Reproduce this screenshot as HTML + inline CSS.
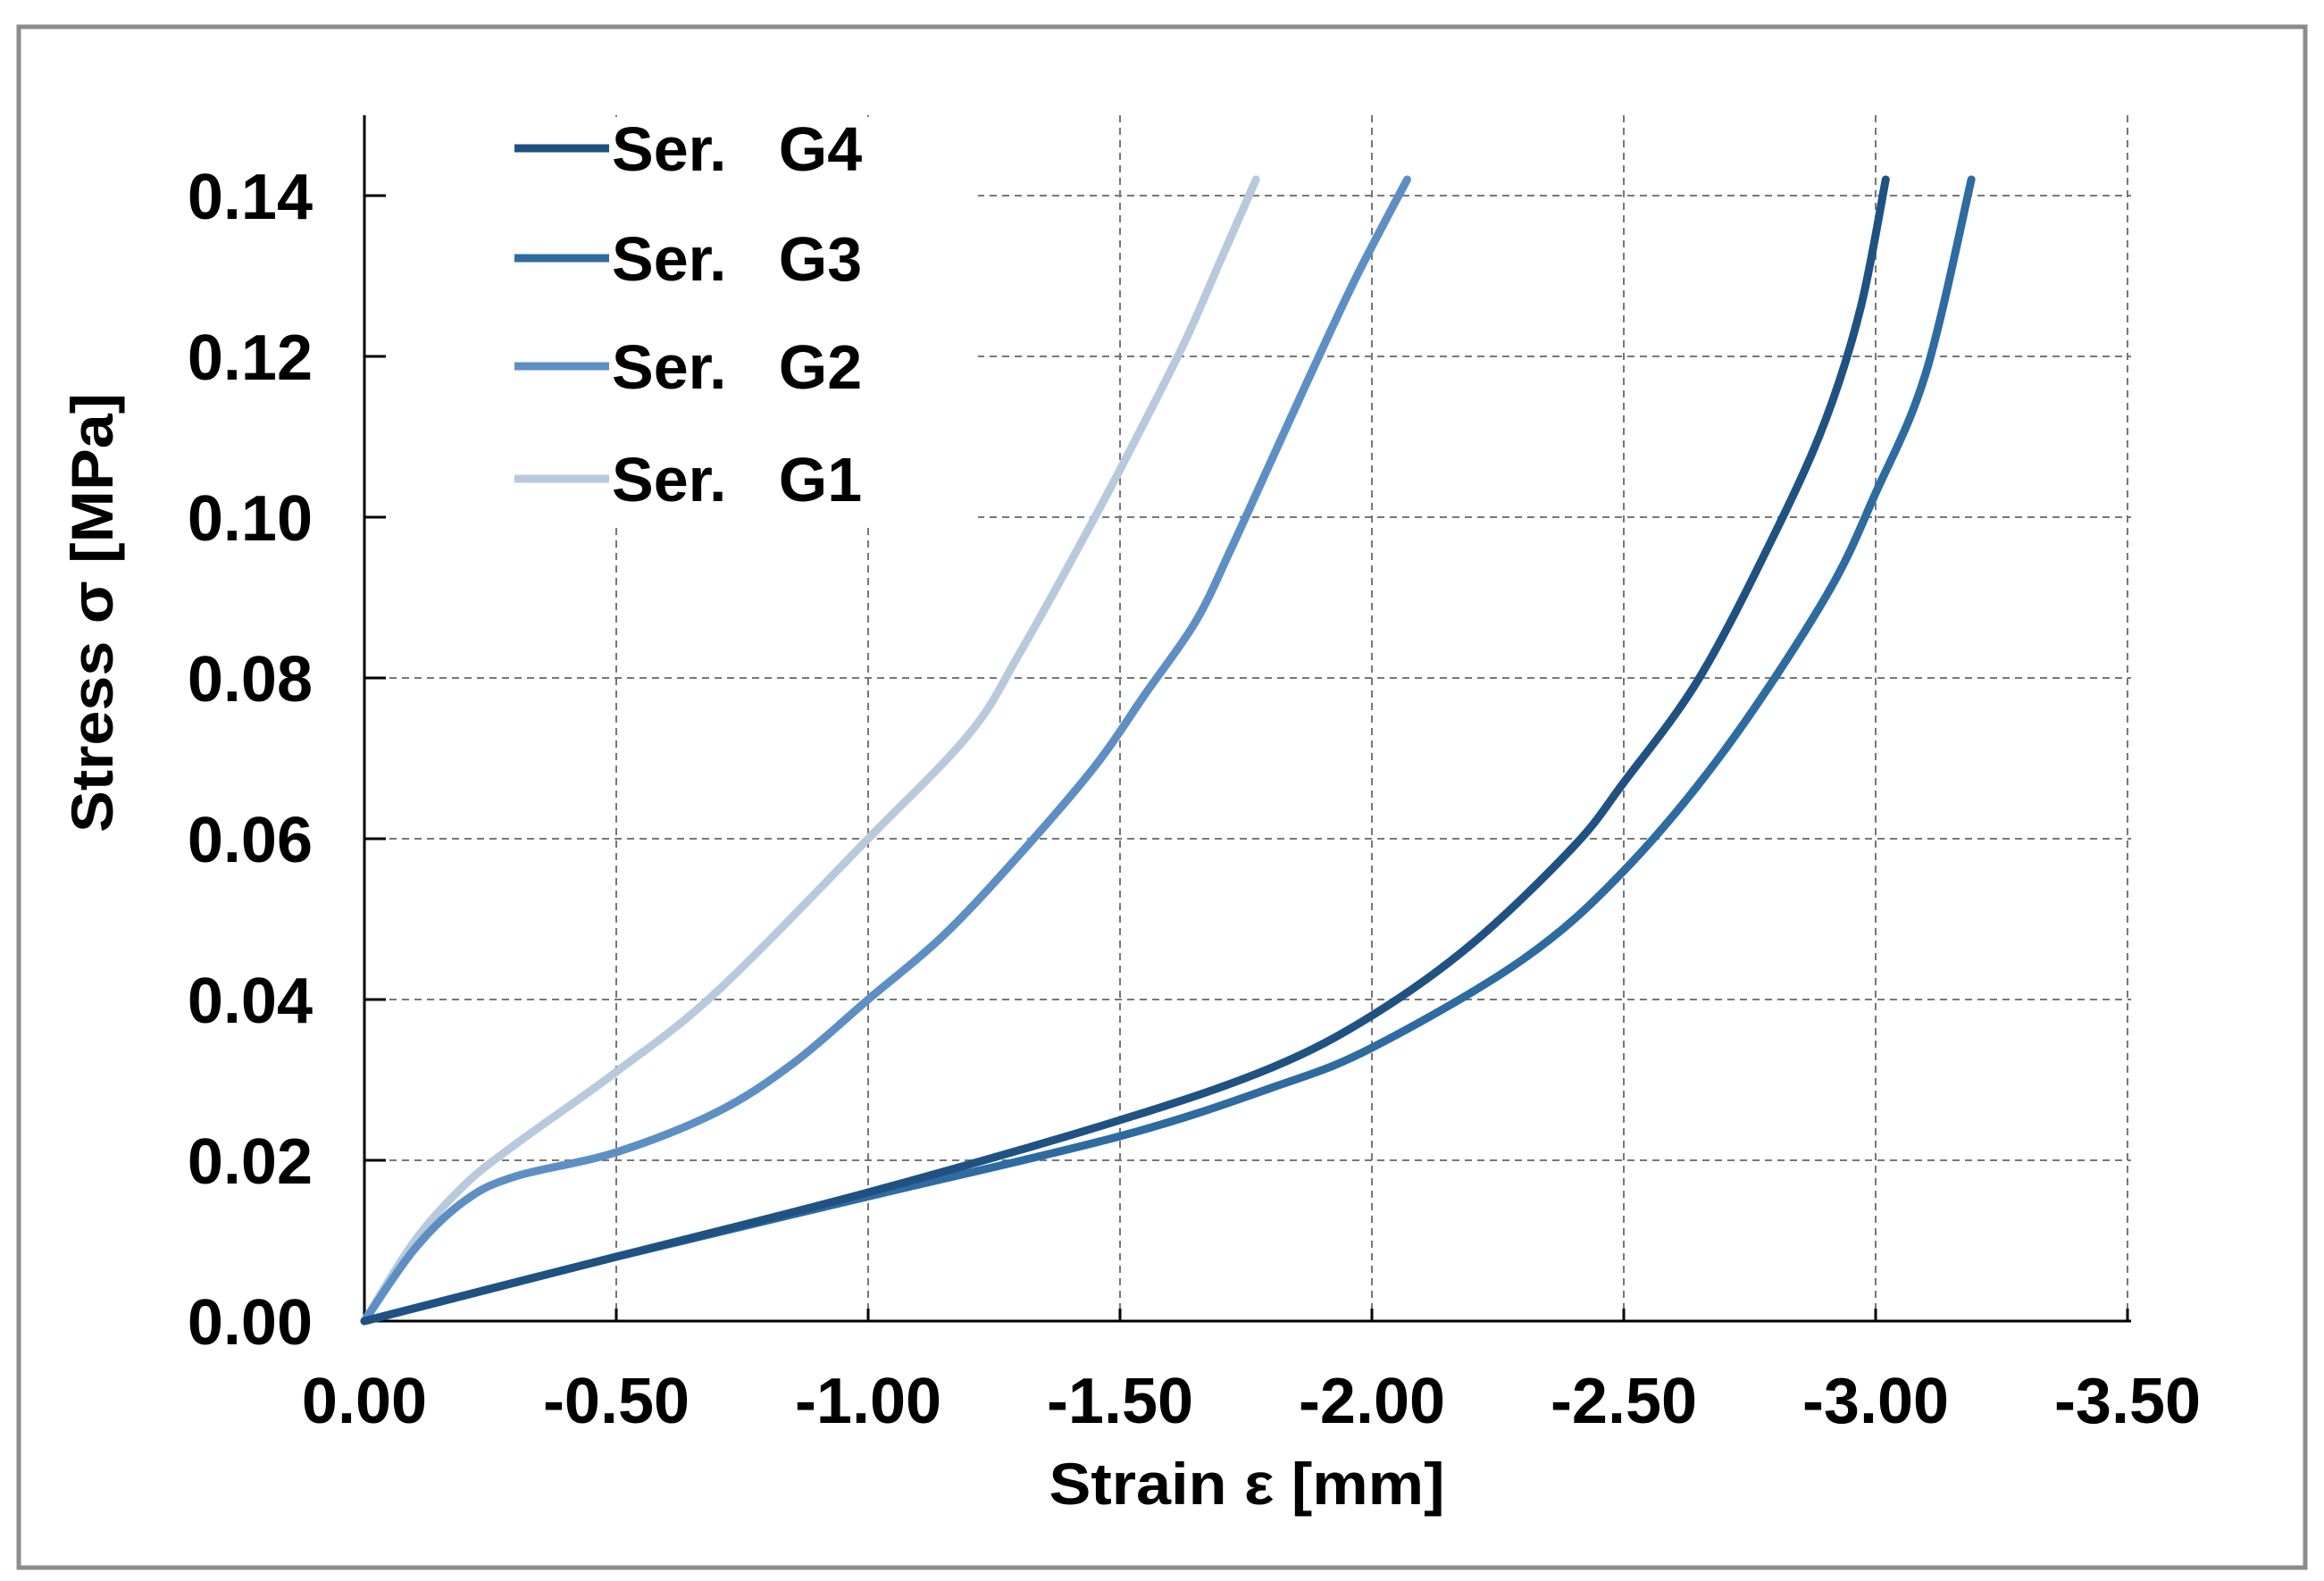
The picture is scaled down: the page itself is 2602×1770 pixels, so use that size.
<!DOCTYPE html>
<html><head><meta charset="utf-8"><style>
html,body{margin:0;padding:0;background:#fff;}
svg{display:block;font-family:"Liberation Sans",sans-serif;font-weight:bold;}
</style></head><body>
<svg id="chart" width="2602" height="1770" viewBox="0 0 2602 1770">
<rect x="21" y="30" width="2560" height="1725" fill="#fff" stroke="#8c8c8c" stroke-width="5"/>
<g id="grid"></g>
<rect x="412" y="131" width="683" height="458" fill="#fff"/>
<g id="axes"></g>
<g id="series"></g>
<g id="legend"></g>
<text x="1396" y="1684" font-size="66" text-anchor="middle" textLength="443" lengthAdjust="spacingAndGlyphs">Strain ε [mm]</text>
<text transform="translate(126,686) rotate(-90)" font-size="66" text-anchor="middle" textLength="492" lengthAdjust="spacingAndGlyphs">Stress σ [MPa]</text>
</svg>
<script>
const xTicks = [0, -0.5, -1.0, -1.5, -2.0, -2.5, -3.0, -3.5];
const xTickLabels = ["0.00","-0.50","-1.00","-1.50","-2.00","-2.50","-3.00","-3.50"];
const yTicks = [0, 0.02, 0.04, 0.06, 0.08, 0.10, 0.12, 0.14];
const yTickLabels = ["0.00","0.02","0.04","0.06","0.08","0.10","0.12","0.14"];
const seriesNames = ["Ser.   G4","Ser.   G3","Ser.   G2","Ser.   G1"];
const g4Strain = [0,-0.5,-1.0,-1.5,-1.8,-2.0,-2.2,-2.4,-2.5,-2.65,-2.8,-2.9,-2.97,-3.02];
const g4Stress = [0,0.008,0.016,0.025,0.0315,0.038,0.047,0.059,0.067,0.080,0.098,0.112,0.126,0.142];
const g3Strain = [0,-0.5,-1.0,-1.5,-1.8,-2.0,-2.3,-2.5,-2.7,-2.9,-3.0,-3.1,-3.19];
const g3Stress = [0,0.008,0.0155,0.023,0.029,0.034,0.045,0.056,0.071,0.090,0.103,0.118,0.142];
const g2Strain = [0,-0.1,-0.2,-0.3,-0.5,-0.7,-0.85,-1.0,-1.15,-1.3,-1.45,-1.55,-1.65,-1.72,-1.8,-1.88,-1.97,-2.07];
const g2Stress = [0,0.009,0.015,0.018,0.021,0.026,0.032,0.040,0.048,0.058,0.069,0.078,0.087,0.096,0.107,0.118,0.130,0.142];
const g1Strain = [0,-0.1,-0.2,-0.3,-0.5,-0.7,-1.0,-1.2,-1.3,-1.45,-1.55,-1.63,-1.7,-1.77];
const g1Stress = [0,0.010,0.017,0.022,0.031,0.041,0.060,0.073,0.083,0.100,0.112,0.122,0.132,0.142];
const seriesColors = ["#1f5283","#2e6ba1","#5d8fc4","#b9c9dd"];

const NS="http://www.w3.org/2000/svg";
const X0=408, XPER=564, Y0=1479, YPER=9000, YTOP=129, XEND=2386;
function sx(v){return X0+(-v)*XPER;}
function sy(v){return Y0-v*YPER;}
function mk(tag,attrs,parent){const e=document.createElementNS(NS,tag);for(const k in attrs)e.setAttribute(k,attrs[k]);parent.appendChild(e);return e;}
const grid=document.getElementById('grid'), axes=document.getElementById('axes'), ser=document.getElementById('series'), leg=document.getElementById('legend');

xTicks.forEach((t,i)=>{
  if(i>0){const l=mk('line',{x1:sx(t),x2:sx(t),y1:YTOP,y2:Y0,stroke:'#777','stroke-width':2,'stroke-dasharray':'8,6'},grid);
  
  }
  const tk=mk('line',{x1:sx(t),x2:sx(t),y1:Y0,y2:Y0-14,stroke:'#000','stroke-width':3},axes);
  
  
  const tx=mk('text',{x:sx(t),y:1593,'font-size':72,'text-anchor':'middle'},axes);
  tx.textContent=xTickLabels[i];
  
  
});
yTicks.forEach((t,i)=>{
  if(i>0){const l=mk('line',{x1:X0,x2:XEND,y1:sy(t),y2:sy(t),stroke:'#777','stroke-width':2,'stroke-dasharray':'8,6'},grid);
  
  }
  const tk=mk('line',{x1:X0,x2:X0+24,y1:sy(t),y2:sy(t),stroke:'#000','stroke-width':3},axes);
  
  
  const tx=mk('text',{x:350,y:sy(t)+26,'font-size':72,'text-anchor':'end'},axes);
  tx.textContent=yTickLabels[i];
  
  
});
const ya=mk('line',{x1:X0,x2:X0,y1:YTOP,y2:Y0+1,stroke:'#000','stroke-width':3},axes);


const xa=mk('line',{x1:X0-1,x2:XEND,y1:Y0,y2:Y0,stroke:'#000','stroke-width':3},axes);



function smooth(xs,ys){
  const p=xs.map((x,i)=>[sx(x),sy(ys[i])]);
  let d='M'+p[0][0]+','+p[0][1];
  for(let i=0;i<p.length-1;i++){
    const a=p[Math.max(0,i-1)],b=p[i],c=p[i+1],e=p[Math.min(p.length-1,i+2)];
    const c1=[b[0]+(c[0]-a[0])/6,b[1]+(c[1]-a[1])/6];
    const c2=[c[0]-(e[0]-b[0])/6,c[1]-(e[1]-b[1])/6];
    d+=' C'+c1[0]+','+c1[1]+' '+c2[0]+','+c2[1]+' '+c[0]+','+c[1];
  }
  return d;
}
const allSeries=[[g4Strain,g4Stress],[g3Strain,g3Stress],[g2Strain,g2Stress],[g1Strain,g1Stress]];
const seriesKeys=['g4','g3','g2','g1'];
for(let i=3;i>=0;i--){
  const p=mk('path',{d:smooth(allSeries[i][0],allSeries[i][1]),fill:'none',stroke:seriesColors[i],'stroke-width':9,'stroke-linejoin':'round','stroke-linecap':'round'},ser);
  
  
}
const legY=[166,289,410,536];
seriesNames.forEach((n,i)=>{
  const l=mk('line',{x1:576,x2:682,y1:legY[i],y2:legY[i],stroke:seriesColors[i],'stroke-width':9},leg);
  
  
  const t=mk('text',{x:685,y:legY[i]+25,'font-size':70},leg);
  t.setAttribute('xml:space','preserve');
  t.style.whiteSpace='pre';
  t.textContent=n;
  
  
});
</script>
</body></html>
